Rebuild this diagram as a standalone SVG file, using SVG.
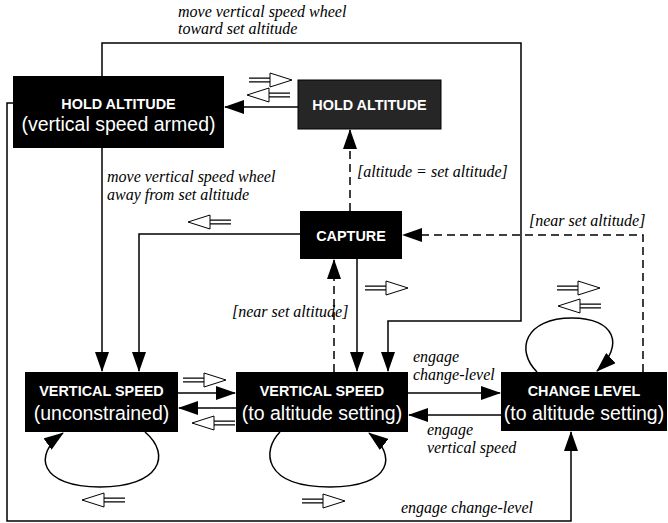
<svg xmlns="http://www.w3.org/2000/svg" width="668" height="523" viewBox="0 0 668 523">
<defs>
<marker id="ah" markerUnits="userSpaceOnUse" markerWidth="20" markerHeight="14" viewBox="0 0 20 14" refX="19" refY="7" orient="auto"><path d="M0,0 L20,7 L0,14 z" fill="#000"/></marker>
<g id="ev"><path d="M0,-1.8 H22 M0,1.8 H22" stroke="#000" stroke-width="1.2" fill="none"/><path d="M21,-7 L43,0 L21,7 Z" fill="#fff" stroke="#000" stroke-width="1"/></g>
</defs>
<style>
.box{fill:#000}
.b{font-family:'Liberation Sans',Arial,sans-serif;font-weight:bold;font-size:14.4px;fill:#fff;text-anchor:middle}
.r{font-family:'Liberation Sans',Arial,sans-serif;font-size:19.5px;fill:#fff;text-anchor:middle}
.lbl{font-family:'Liberation Serif','Times New Roman',serif;font-style:italic;font-size:16px;fill:#000}
.c{fill:none;stroke:#000;stroke-width:1.5}
.d{stroke-dasharray:8 5}
</style>
<rect width="668" height="523" fill="#fff"/>
<g id="connectors">
<path class="c" d="M298,107 H225" marker-end="url(#ah)"/>
<path class="c" d="M102,76 V43 H521 V321 H388 V371" marker-end="url(#ah)"/>
<path class="c" d="M102,148 V371" marker-end="url(#ah)"/>
<path class="c" d="M13,103 H7 V521 H571 V432" marker-end="url(#ah)"/>
<path class="c" d="M300,234 H139 V371" marker-end="url(#ah)"/>
<path class="c" d="M357,259 V371" marker-end="url(#ah)"/>
<path class="c d" d="M334,372 V260" marker-end="url(#ah)"/>
<path class="c d" d="M350,211 V130" marker-end="url(#ah)"/>
<path class="c d" d="M643,372 V235 H403" marker-end="url(#ah)"/>
<path class="c" d="M178,393 H235" marker-end="url(#ah)"/>
<path class="c" d="M236,408 H179" marker-end="url(#ah)"/>
<path class="c" d="M408,393 H500" marker-end="url(#ah)"/>
<path class="c" d="M501,415 H409" marker-end="url(#ah)"/>
<path class="c" d="M145,432 C172,455 160,487 100,487 C40,487 32,455 63,433" marker-end="url(#ah)"/>
<path class="c" d="M280,432 C262,450 262,487 330,487 C392,487 398,455 369,433" marker-end="url(#ah)"/>
<path class="c" d="M537,372 C515,350 525,318 572,318 C615,318 625,345 597,371" marker-end="url(#ah)"/>
<use href="#ev" transform="translate(249,80)"/>
<use href="#ev" transform="translate(290,95) scale(-1,1)"/>
<use href="#ev" transform="translate(231,222) scale(-1,1)"/>
<use href="#ev" transform="translate(365,288)"/>
<use href="#ev" transform="translate(557,288)"/>
<use href="#ev" transform="translate(601,306) scale(-1,1)"/>
<use href="#ev" transform="translate(183,380)"/>
<use href="#ev" transform="translate(235,423) scale(-1,1)"/>
<use href="#ev" transform="translate(125,500) scale(-1,1)"/>
<use href="#ev" transform="translate(302,501)"/>
<text class="lbl" x="178" y="17">move vertical speed wheel</text>
<text class="lbl" x="178" y="34">toward set altitude</text>
<text class="lbl" x="107" y="182">move vertical speed wheel</text>
<text class="lbl" x="107" y="200">away from set altitude</text>
<text class="lbl" x="357" y="177">[altitude = set altitude]</text>
<text class="lbl" x="232" y="317">[near set altitude]</text>
<text class="lbl" x="529" y="226">[near set altitude]</text>
<text class="lbl" x="413" y="362">engage</text>
<text class="lbl" x="413" y="380">change-level</text>
<text class="lbl" x="427" y="435">engage</text>
<text class="lbl" x="427" y="453">vertical speed</text>
<text class="lbl" x="401" y="513">engage change-level</text>
</g>
<g id="hold-armed">
<rect class="box" x="13" y="76" width="211" height="72"/>
<text class="b" x="118.5" y="109">HOLD ALTITUDE</text>
<text class="r" x="118.5" y="131">(vertical speed armed)</text>
</g>
<g id="hold">
<rect x="298" y="80" width="143" height="49" fill="#262626" stroke="#000" stroke-width="1"/>
<text class="b" x="369.5" y="110">HOLD ALTITUDE</text>
</g>
<g id="capture">
<rect class="box" x="300" y="211" width="102" height="48"/>
<text class="b" x="351" y="241">CAPTURE</text>
</g>
<g id="vs-unconstrained">
<rect class="box" x="25" y="372" width="153" height="60"/>
<text class="b" x="101.5" y="396">VERTICAL SPEED</text>
<text class="r" x="101.5" y="420">(unconstrained)</text>
</g>
<g id="vs-to-altitude">
<rect class="box" x="236" y="372" width="172" height="60"/>
<text class="b" x="322" y="396">VERTICAL SPEED</text>
<text class="r" x="322" y="420">(to altitude setting)</text>
</g>
<g id="change-level">
<rect class="box" x="501" y="372" width="166" height="59"/>
<text class="b" x="584" y="396">CHANGE LEVEL</text>
<text class="r" x="584" y="420">(to altitude setting)</text>
</g>
</svg>
